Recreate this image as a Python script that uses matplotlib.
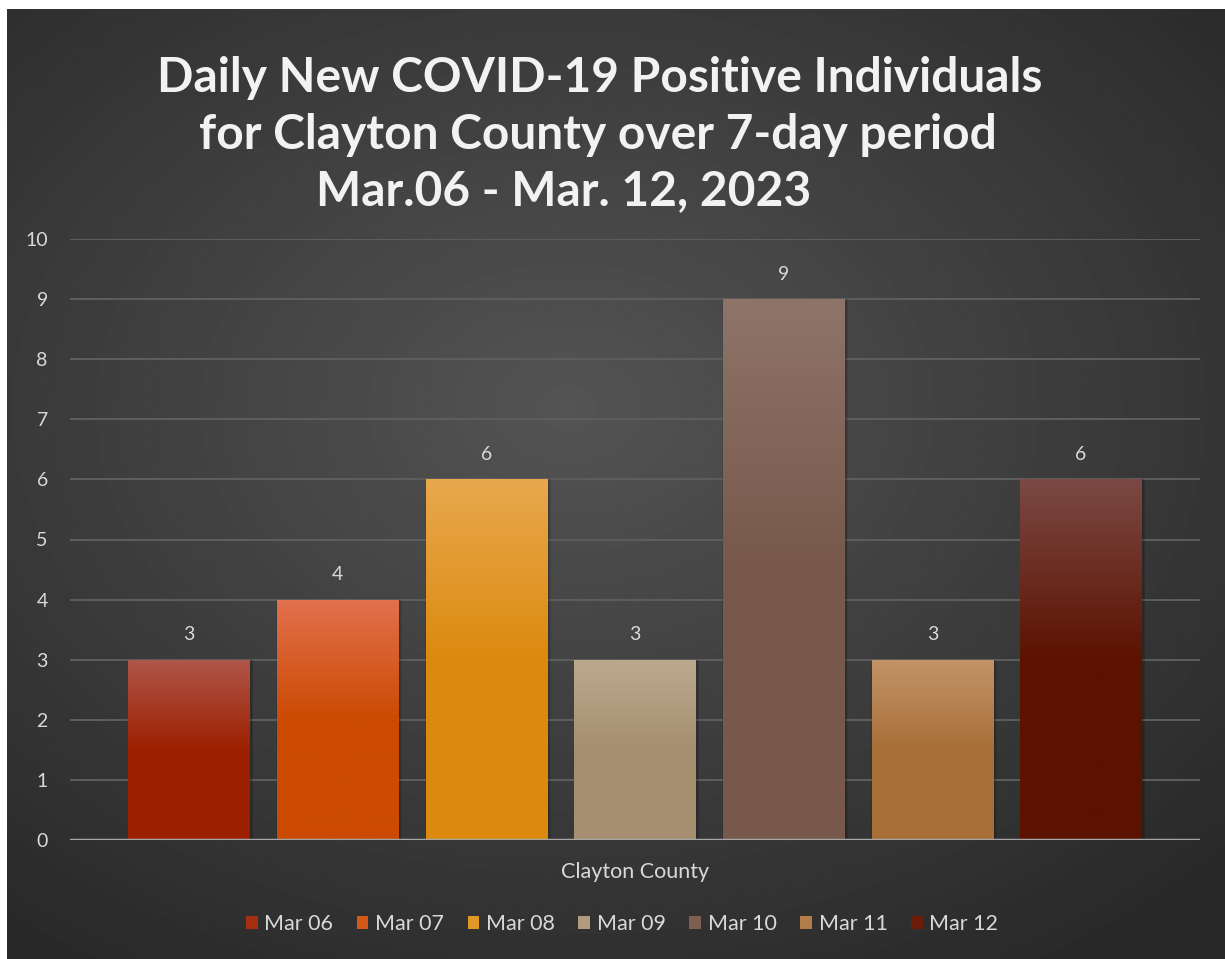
import numpy as np
import matplotlib.pyplot as plt
from matplotlib.colors import LinearSegmentedColormap
from matplotlib.patches import Patch

# data
days = ['Mar 06', 'Mar 07', 'Mar 08', 'Mar 09', 'Mar 10', 'Mar 11', 'Mar 12']
cases = [3, 4, 6, 3, 9, 3, 6]
category = 'Clayton County'
title_lines = ['Daily New COVID-19 Positive Individuals',
               'for Clayton County over 7-day period',
               'Mar.06 - Mar. 12, 2023']

# styling
legend_cols = ['#A5300F', '#D55816', '#E19825', '#B19C7D', '#7F5F52', '#B27D49', '#6B1D0A']
top_cols = ['#B0564A', '#E2714E', '#E8A84E', '#BCA98D', '#8F7469', '#C39468', '#7B4944']
bot_cols = ['#9C2000', '#CC4A02', '#DC8A0E', '#A68F70', '#77584B', '#A86F38', '#5C1200']
txt = '#D9D9D9'

plt.rcParams['font.family'] = ['Lato', 'DejaVu Sans']

W, H = 1225, 959
fig = plt.figure(figsize=(W / 100, H / 100), dpi=100)
fig.patch.set_facecolor('white')

# dark panel with radial glow
bg = fig.add_axes([7 / W, 0, 1 - 7 / W, 1 - 9 / H])
bg.axis('off')
yy, xx = np.mgrid[0:1:600j, 0:1:800j]
r = np.sqrt(((xx - 0.46) / 0.75) ** 2 + ((yy - 0.42) / 0.7) ** 2)
shade = 0.33 - 0.17 * np.clip(r, 0, 1)
bg.imshow(shade, cmap='gray', vmin=0, vmax=1, aspect='auto',
          extent=[0, 1, 0, 1], origin='upper', interpolation='bilinear')
bg.set_xlim(0, 1)
bg.set_ylim(0, 1)

ax = fig.add_axes([70 / W, 1 - 840 / H, 1130 / W, 601 / H])
ax.set_facecolor('none')

x = np.arange(len(days))
width = 0.815

# soft shadows behind bars
for k in range(3):
    ax.bar(x + 0.01, cases, width + 0.03 - k * 0.01, color='black', alpha=0.08, zorder=1.5)

bars = ax.bar(x, cases, width, color='none', edgecolor='none', zorder=2)
grad = np.linspace(0, 1, 256).reshape(-1, 1)
for b, c0, c1 in zip(bars, bot_cols, top_cols):
    cm = LinearSegmentedColormap.from_list('g', [c0, c0, c1])
    im = ax.imshow(grad, cmap=cm, aspect='auto', origin='lower', zorder=2,
                   extent=[b.get_x(), b.get_x() + b.get_width(), 0, b.get_height()])
    im.set_clip_path(b)
    ax.text(b.get_x() + b.get_width() / 2, b.get_height() + 0.27, str(int(b.get_height())),
            ha='center', va='bottom', color=txt, fontsize=14)

ax.set_xlim(-0.8, len(days) - 0.2)
ax.set_ylim(0, 10)
ax.set_yticks(range(0, 11))
ax.yaxis.grid(True, color='#5E5E5E', lw=1.4, zorder=0)
ax.set_axisbelow(True)
ax.axhline(0, color='#A6A6A6', lw=2.5, zorder=3)
ax.tick_params(axis='y', length=0, labelsize=14, labelcolor=txt, pad=16)
ax.set_xticks([])
for s in ax.spines.values():
    s.set_visible(False)

# titles
title_y = [92, 149, 205]
title_x = [600, 598, 564]
for t, ty, tx in zip(title_lines, title_y, title_x):
    fig.text(tx / W, 1 - ty / H, t, ha='center', va='baseline', color='#F2F2F2',
             fontsize=34.5, fontweight='bold')

fig.text(635 / W, 1 - 878 / H, category, ha='center', va='baseline', color=txt, fontsize=15.5)

handles = [Patch(facecolor=c, edgecolor='none') for c in legend_cols]
fig.legend(handles, days, loc='center', bbox_to_anchor=(622 / W, 1 - 924 / H), ncol=7,
           frameon=False, fontsize=15.5, labelcolor=txt, handlelength=0.55, handleheight=0.55,
           handletextpad=0.3, columnspacing=1.1)

fig.savefig('out.png', dpi=100)
